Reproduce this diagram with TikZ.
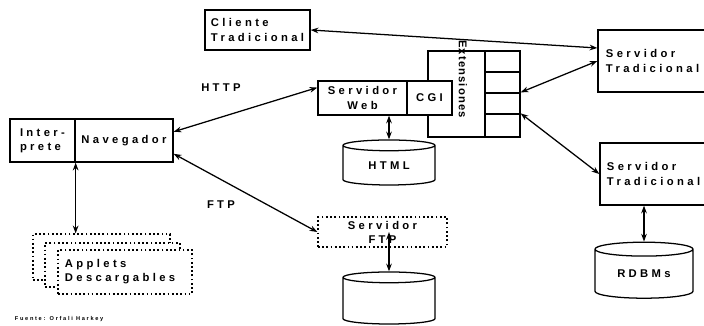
\documentclass[tikz,border=0pt]{standalone}
\usepackage{fontspec}
\usepackage{tikz}
\usetikzlibrary{shapes.geometric, arrows.meta}
\newfontfamily\labfont[LetterSpace=30]{Liberation Sans}
\newfontfamily\extfont[LetterSpace=10]{Liberation Sans}

\begin{document}
\begin{tikzpicture}[>={Stealth[length=5.5pt, width=4pt]}, x=0.025cm, y=-0.025cm,
  every node/.style={font=\labfont\bfseries\fontsize{8}{10}\selectfont},
  box/.style={draw, line width=0.9pt, fill=white, inner sep=0pt},
  dotbox/.style={box, dash pattern=on 1.2pt off 1.8pt},
  db/.style={draw, line width=0.9pt, cylinder, shape border rotate=90, aspect=0.26, inner sep=0pt},
  link/.style={<->, line width=0.9pt}]
  \useasboundingbox (0,0) rectangle (704,326);
  % Clients and traditional servers
  \node[box, minimum width=2.625cm, minimum height=1cm, align=left] (cliente) at (257.5,30) {Cliente\\Tradicional};
  \node[box, minimum width=2.7cm, minimum height=1.55cm, text width=2.3cm, align=left] (servA) at (652,61) {Servidor\\Tradicional};
  \node[box, minimum width=2.65cm, minimum height=1.55cm, text width=2.3cm, align=left] (servB) at (653,174) {Servidor\\Tradicional};
  \node[db, minimum width=2.45cm, minimum height=1.4cm] (rdbms) at (644,274) {RDBMs};
  % Extension block with its four slots
  \node[box, minimum width=2.3cm, minimum height=2.15cm] (ext) at (474,94) {};
  \node[box, minimum width=0.875cm, minimum height=0.525cm] (e1) at (502.5,61.5) {};
  \node[box, minimum width=0.875cm, minimum height=0.525cm] (e2) at (502.5,82.5) {};
  \node[box, minimum width=0.875cm, minimum height=0.525cm] (e3) at (502.5,103.5) {};
  \node[box, minimum width=0.875cm, minimum height=0.575cm] (e4) at (502.5,125.5) {};
  \node[rotate=-90, font=\extfont\bfseries\fontsize{8}{10}\selectfont] (extlab) at (463,79) {Extensiones};
  % Web server
  \node[box, minimum width=2.225cm, minimum height=0.85cm, align=center] (web) at (362.5,98) {Servidor\\Web};
  \node[box, minimum width=1.125cm, minimum height=0.85cm] (cgi) at (429.5,98) {CGI};
  \node[db, minimum width=2.3cm, minimum height=1.125cm] (html) at (389,165.5) {HTML};
  % Browser side
  \node[box, minimum width=1.625cm, minimum height=1.075cm, align=left] (inter) at (42.5,140.5) {Inter-\\prete};
  \node[box, minimum width=2.45cm, minimum height=1.075cm] (nav) at (124,140.5) {Navegador};
  \node[dotbox, minimum width=3.425cm, minimum height=1.15cm] (applA) at (101.5,257) {};
  \node[dotbox, minimum width=3.375cm, minimum height=1.1cm] (applB) at (112.5,265) {};
  \node[dotbox, minimum width=3.35cm, minimum height=1.1cm, text width=3cm, align=left] (applC) at (125,272) {Applets\\Descargables};
  % FTP server
  \node[dotbox, minimum width=3.225cm, minimum height=0.75cm, align=center] (ftp) at (382.5,232) {Servidor\\FTP};
  \node[db, minimum width=2.3cm, minimum height=1.3cm] (ftpdb) at (389,301) {\phantom{HTML}};
  % Protocol labels
  \node (http) at (221,88) {HTTP};
  \node (ftplab) at (221,205) {FTP};
  \node[anchor=west, font=\labfont\bfseries\fontsize{4}{5}\selectfont] (fuente) at (10,319) {Fuente: Orfali Harkey};
  % Connections
  \draw[link] (nav.10) -- (web.167);
  \draw[link] (nav.-15) -- (ftp.west);
  \draw[link] (inter.south east) -- (inter.south east |- applA.north);
  \draw[link] (html.top) -- (html.top |- web.south);
  \draw[link] (ftpdb.top) -- (ftpdb.top |- ftp.center);
  \draw[link] (cliente.east) -- ([yshift=0.325cm]servA.west);
  \draw[link] (e3.north east) -- (servA.west);
  \draw[link] (e4.north east) -- (servB.west);
  \draw[link] (rdbms.top) -- (rdbms.top |- servB.south);
\end{tikzpicture}
\end{document}
